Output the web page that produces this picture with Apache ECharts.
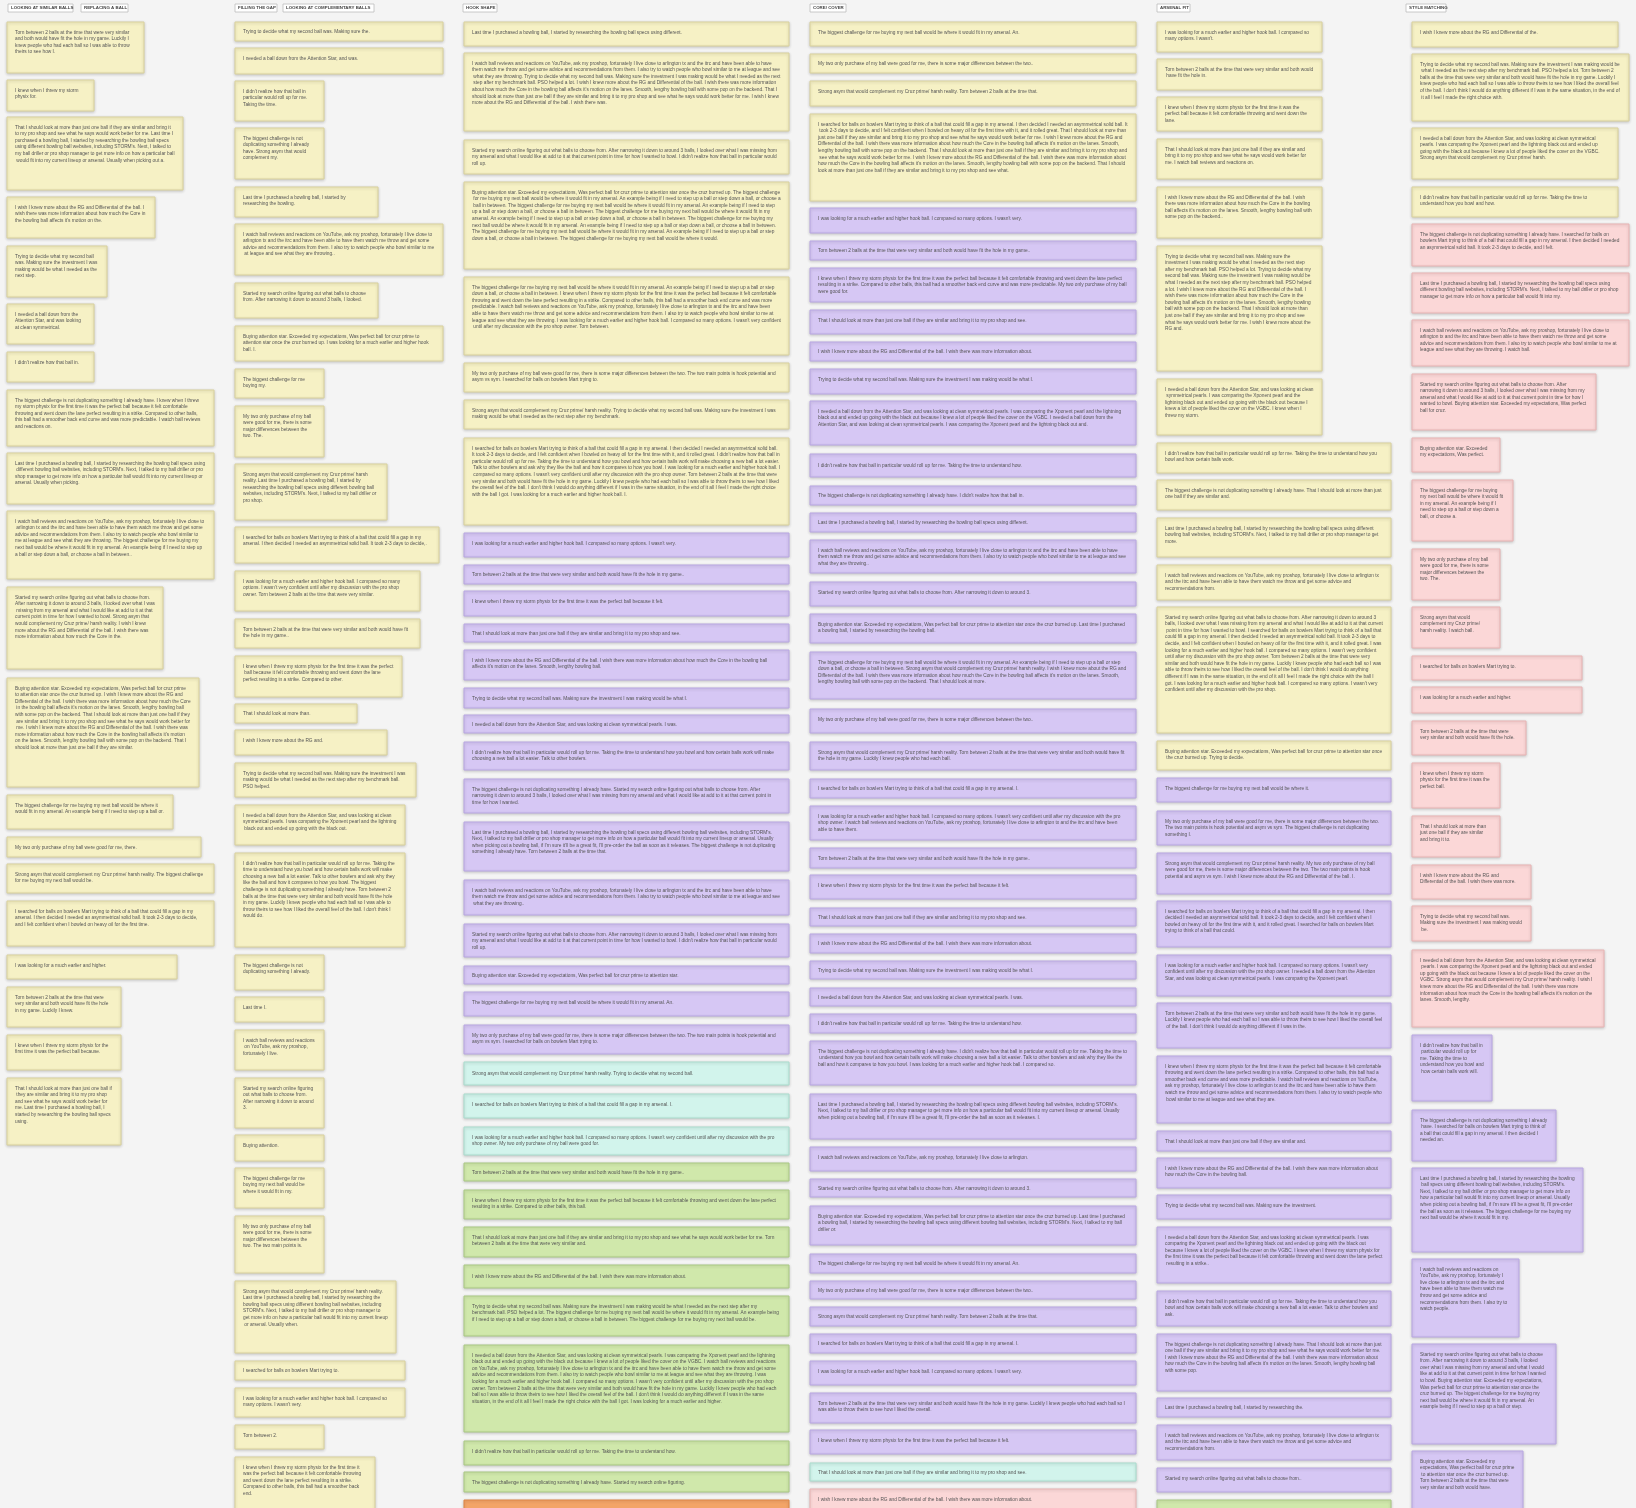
<!DOCTYPE html>
<html><head><meta charset="utf-8">
<script src="https://cdn.jsdelivr.net/npm/echarts@6/dist/echarts.min.js"></script>
<style>html,body{margin:0;padding:0;background:#f4f4f4}#c{width:1636px;height:1508px}</style>
</head><body><div id="c"></div>
<script>
// headers: [label, x0, x1]
const headers = [
 ['LOOKING AT SIMILAR BALLS',8,73],['REPLACING A BALL',81,128],
 ['FILLING THE GAP',235,277],['LOOKING AT COMPLEMENTARY BALLS',283,374],
 ['HOOK SHAPE',463,497],['CORE/ COVER',810,846],
 ['ARSENAL FIT',1157,1190],['STYLE MATCHING',1406,1446]
];
// kinds: Y yellow, P purple, T teal, G green, O orange, K pink
// each note: [x1, y0, y1, kind]
const col1X = 7;
const col1 = [[144,22,73,'Y'],[94,80,111,'Y'],[183,117,190,'Y'],[155,197,238,'Y'],[107,246,297,'Y'],[94,304,344,'Y'],[94,352,382,'Y'],[214,390,446,'Y'],[214,453,504,'Y'],[214,511,579,'Y'],[163,587,669,'Y'],[199,678,787,'Y'],[173,795,829,'Y'],[201,837,857,'Y'],[214,864,893,'Y'],[214,901,946,'Y'],[177,955,979,'Y'],[121,987,1027,'Y'],[121,1035,1070,'Y'],[121,1078,1145,'Y']];
const col2X = 235;
const col2 = [[443,22,41,'Y'],[443,48,74,'Y'],[324,81,121,'Y'],[324,128,179,'Y'],[378,187,217,'Y'],[443,224,275,'Y'],[378,283,318,'Y'],[443,326,361,'Y'],[324,369,398,'Y'],[324,406,457,'Y'],[387,464,520,'Y'],[439,527,563,'Y'],[420,571,611,'Y'],[420,619,648,'Y'],[402,656,697,'Y'],[357,704,723,'Y'],[387,730,755,'Y'],[416,763,797,'Y'],[405,805,845,'Y'],[405,853,947,'Y'],[324,955,990,'Y'],[324,997,1022,'Y'],[324,1030,1070,'Y'],[324,1078,1128,'Y'],[324,1135,1161,'Y'],[324,1168,1208,'Y'],[324,1216,1273,'Y'],[396,1281,1353,'Y'],[405,1361,1380,'Y'],[405,1388,1417,'Y'],[324,1425,1449,'Y'],[375,1457,1515,'Y']];
const col3X = 464;
const col3 = [[789,22,46,'Y'],[789,53,131,'Y'],[789,140,174,'Y'],[789,182,269,'Y'],[789,277,355,'Y'],[789,363,392,'Y'],[789,400,429,'Y'],[789,438,525,'Y'],[789,533,557,'P'],[789,565,584,'P'],[789,591,616,'P'],[789,624,642,'P'],[789,650,680,'P'],[789,688,708,'P'],[789,715,733,'P'],[789,742,770,'P'],[789,779,813,'P'],[789,822,871,'P'],[789,880,915,'P'],[789,924,957,'P'],[789,966,984,'P'],[789,992,1016,'P'],[789,1025,1054,'P'],[789,1062,1085,'T'],[789,1094,1118,'T'],[789,1127,1155,'T'],[789,1163,1181,'G'],[789,1190,1219,'G'],[789,1227,1257,'G'],[789,1265,1288,'G'],[789,1296,1336,'G'],[789,1345,1432,'G'],[789,1441,1465,'G'],[789,1472,1492,'G'],[789,1500,1520,'O']];
const col4X = 810;
const col4 = [[1136,22,46,'Y'],[1136,54,73,'Y'],[1136,81,106,'Y'],[1136,114,201,'Y'],[1136,208,233,'P'],[1136,241,260,'P'],[1136,268,302,'P'],[1136,310,334,'P'],[1136,342,361,'P'],[1136,369,394,'P'],[1136,401,445,'P'],[1136,454,477,'P'],[1136,486,505,'P'],[1136,513,532,'P'],[1136,540,573,'P'],[1136,582,606,'P'],[1136,614,643,'P'],[1136,652,699,'P'],[1136,709,733,'P'],[1136,742,770,'P'],[1136,779,798,'P'],[1136,806,840,'P'],[1136,848,868,'P'],[1136,875,899,'P'],[1136,908,926,'P'],[1136,934,953,'P'],[1136,961,979,'P'],[1136,988,1006,'P'],[1136,1014,1033,'P'],[1136,1041,1085,'P'],[1136,1094,1139,'P'],[1136,1147,1171,'P'],[1136,1179,1197,'P'],[1136,1206,1245,'P'],[1136,1254,1273,'P'],[1136,1281,1299,'P'],[1136,1307,1326,'P'],[1136,1334,1353,'P'],[1136,1361,1385,'P'],[1136,1393,1423,'P'],[1136,1430,1454,'P'],[1136,1463,1481,'T'],[1136,1489,1515,'K']];
const col5X = 1157;
const col5 = [[1322,22,52,'Y'],[1322,59,90,'Y'],[1322,97,131,'Y'],[1322,139,179,'Y'],[1322,187,238,'Y'],[1322,246,371,'Y'],[1322,379,435,'Y'],[1391,443,473,'Y'],[1391,480,510,'Y'],[1391,518,557,'Y'],[1391,565,600,'Y'],[1391,607,733,'Y'],[1391,741,770,'Y'],[1391,778,802,'P'],[1391,811,845,'P'],[1391,853,894,'P'],[1391,901,947,'P'],[1391,955,996,'P'],[1391,1003,1048,'P'],[1391,1056,1123,'P'],[1391,1131,1151,'P'],[1391,1158,1188,'P'],[1391,1195,1219,'P'],[1391,1227,1283,'P'],[1391,1291,1326,'P'],[1391,1334,1391,'P'],[1391,1398,1417,'P'],[1391,1425,1460,'P'],[1391,1468,1492,'P'],[1391,1500,1520,'G']];
const col6X = 1412;
const col6 = [[1618,22,47,'Y'],[1629,54,121,'Y'],[1618,128,179,'Y'],[1618,187,217,'Y'],[1629,224,266,'K'],[1629,273,313,'K'],[1629,320,366,'K'],[1596,374,430,'K'],[1500,438,472,'K'],[1513,480,541,'K'],[1500,549,600,'K'],[1500,607,648,'K'],[1582,656,680,'K'],[1582,687,713,'K'],[1526,721,755,'K'],[1500,763,808,'K'],[1500,816,857,'K'],[1531,865,899,'K'],[1531,906,941,'K'],[1604,950,1027,'K'],[1492,1035,1101,'P'],[1556,1110,1161,'P'],[1583,1168,1252,'P'],[1519,1259,1337,'P'],[1556,1344,1444,'P'],[1523,1451,1515,'P']];

const quotes = [
 "Torn between 2 balls at the time that were very similar and both would have fit the hole in my game. Luckily I knew people who had each ball so I was able to throw theirs to see how I liked the overall feel of the ball. I don't think I would do anything different if I was in the same situation, in the end of it all I feel I made the right choice with the ball I got.",
 "The biggest challenge is not duplicating something I already have.",
 "Strong asym that would complement my Cruz prime/ harsh reality.",
 "Trying to decide what my second ball was. Making sure the investment I was making would be what I needed as the next step after my benchmark ball. PSO helped a lot.",
 "Buying attention star. Exceeded my expectations, Was perfect ball for cruz prime to attention star once the cruz burned up.",
 "I knew when I threw my storm physix for the first time it was the perfect ball because it felt comfortable throwing and went down the lane perfect resulting in a strike. Compared to other balls, this ball had a smoother back end curve and was more predictable.",
 "Last time I purchased a bowling ball, I started by researching the bowling ball specs using different bowling ball websites, including STORM's. Next, I talked to my ball driller or pro shop manager to get more info on how a particular ball would fit into my current lineup or arsenal. Usually when picking out a bowling ball, if I'm sure it'll be a great fit, I'll pre-order the ball as soon as it releases.",
 "I searched for balls on bowlers Mart trying to think of a ball that could fill a gap in my arsenal. I then decided I needed an asymmetrical solid ball. It took 2-3 days to decide, and I felt confident when I bowled on heavy oil for the first time with it, and it rolled great.",
 "I needed a ball down from the Attention Star, and was looking at clean symmetrical pearls. I was comparing the Xponent pearl and the lightning black out and ended up going with the black out because I knew a lot of people liked the cover on the VGBC.",
 "The biggest challenge for me buying my next ball would be where it would fit in my arsenal. An example being if I need to step up a ball or step down a ball, or choose a ball in between.",
 "That I should look at more than just one ball if they are similar and bring it to my pro shop and see what he says would work better for me.",
 "I watch ball reviews and reactions on YouTube, ask my proshop, fortunately I live close to arlington tx and the itrc and have been able to have them watch me throw and get some advice and recommendations from them. I also try to watch people who bowl similar to me at league and see what they are throwing.",
 "I was looking for a much earlier and higher hook ball. I compared so many options. I wasn't very confident until after my discussion with the pro shop owner.",
 "I didn't realize how that ball in particular would roll up for me. Taking the time to understand how you bowl and how certain balls work will make choosing a new ball a lot easier. Talk to other bowlers and ask why they like the ball and how it compares to how you bowl.",
 "My two only purchase of my ball were good for me, there is some major differences between the two. The two main points is hook potential and asym vs sym.",
 "I wish I knew more about the RG and Differential of the ball. I wish there was more information about how much the Core in the bowling ball affects it's motion on the lanes. Smooth, lengthy bowling ball with some pop on the backend.",
 "Started my search online figuring out what balls to choose from. After narrowing it down to around 3 balls, I looked over what I was missing from my arsenal and what I would like at add to it at that current point in time for how I wanted to bowl."
];

const fills = {Y:'#f6f1c5',P:'#d6c7f4',T:'#d2f4ec',G:'#d0e8ab',O:'#f3a467',K:'#fbd7d7'};
const strokes = {Y:'#d9d19c',P:'#b8a6e2',T:'#a9dccd',G:'#a9c883',O:'#dd8444',K:'#e8b3b3'};

const cols = [[col1X,col1],[col2X,col2],[col3X,col3],[col4X,col4],[col5X,col5],[col6X,col6]];
const noteData = [];
cols.forEach(([x0,list],ci)=>{
  list.forEach((n,i)=>{
    const w = n[0]-x0, h = n[2]-n[1];
    const perLine = Math.max(10, Math.floor((w-26)/2.9));
    const lines = Math.max(1, Math.floor((h-13)/6.6));
    const nChars = perLine*lines;
    let t = quotes[(i*5+ci*3)%quotes.length];
    while (t.length < nChars) t += ' ' + quotes[(i+ci+t.length)%quotes.length];
    if (t.length > nChars) t = t.slice(0, nChars-1).replace(/\s+\S*$/,'') + '.';
    noteData.push([x0, n[1], n[0], n[2], n[3], t]);
  });
});

const chart = echarts.init(document.getElementById('c'));
chart.setOption({
  backgroundColor:'#f4f4f4',
  animation:false,
  grid:{left:0,right:0,top:0,bottom:0},
  xAxis:{type:'value',min:0,max:1636,show:false},
  yAxis:{type:'value',min:0,max:1508,inverse:true,show:false},
  series:[
   {type:'custom',data:noteData,clip:true,renderItem:(params,api)=>{
      const d = noteData[params.dataIndex];
      const p0 = api.coord([d[0],d[1]]), p1 = api.coord([d[2],d[3]]);
      const w = p1[0]-p0[0], h = p1[1]-p0[1];
      return {type:'group',children:[
        {type:'rect',shape:{x:p0[0],y:p0[1],width:w,height:h},
         style:{fill:fills[d[4]],stroke:strokes[d[4]],lineWidth:1,shadowBlur:3,shadowColor:'rgba(0,0,0,0.18)',shadowOffsetY:1}},
        {type:'text',x:p0[0]+8,y:p0[1]+ (h<24? (h/2-3):7),
         style:{text:d[5],width:w-16,overflow:'break',fontSize:4.8,lineHeight:6.6,fontFamily:'Liberation Sans Narrow, Liberation Sans, sans-serif',fill:'#555'}}
      ]};
   }},
   {type:'custom',data:headers.map(h=>[h[1],h[2],h[0]]),renderItem:(params,api)=>{
      const h = headers[params.dataIndex];
      const p0 = api.coord([h[1],4]), p1 = api.coord([h[2],12]);
      return {type:'group',children:[
        {type:'rect',shape:{x:p0[0],y:p0[1],width:p1[0]-p0[0],height:p1[1]-p0[1]},style:{fill:'#ffffff',stroke:'#bdbdbd',lineWidth:0.8}},
        {type:'text',x:p0[0]+3,y:p0[1]+1.6,style:{text:h[0],fontSize:4.4,fontFamily:'Liberation Sans, sans-serif',fill:'#444',fontWeight:'bold'}}
      ]};
   }}
  ]
});
</script></body></html>
